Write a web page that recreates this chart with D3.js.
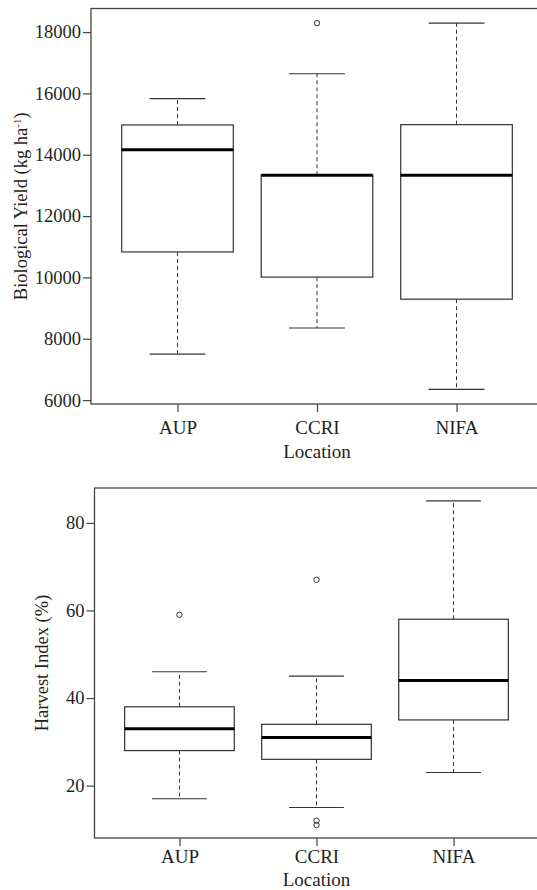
<!DOCTYPE html>
<html>
<head>
<meta charset="utf-8">
<script src="https://cdn.jsdelivr.net/npm/d3@7"></script>
<style>
  html, body { margin: 0; padding: 0; background: #fff; }
  svg { display: block; }
</style>
</head>
<body>
<div id="chart"></div>
<script>
// ── Data
const locations = ['AUP', 'CCRI', 'NIFA'];

// Biological yield (kg ha-1)
const yieldLow  = [7500, 8350, 6350];
const yieldQ1   = [10830, 10010, 9290];
const yieldMed  = [14160, 13330, 13330];
const yieldQ3   = [14970, 13330, 14980];
const yieldHigh = [15830, 16640, 18290];
const yieldOut  = [[], [18290], []];
const yieldTicks = [6000, 8000, 10000, 12000, 14000, 16000, 18000];

// Harvest index (%)
const hiLow  = [17, 15, 23];
const hiQ1   = [28, 26, 35];
const hiMed  = [33, 31, 44];
const hiQ3   = [38, 34, 58];
const hiHigh = [46, 45, 85];
const hiOut  = [[59], [67, 12, 11], []];
const hiTicks = [20, 40, 60, 80];

// ── Layout
const W = 537, H = 890;
const FONT = '"Liberation Serif", "Times New Roman", serif';
const INK = '#231f20';

const svg = d3.select('#chart').append('svg')
  .attr('width', W).attr('height', H);

function boxes(low, q1, med, q3, high, out) {
  return locations.map((name, i) => ({
    name, i: i + 1, low: low[i], q1: q1[i], med: med[i], q3: q3[i], high: high[i], out: out[i]
  }));
}

// R-style boxplot panel
function panel(opts) {
  const { data, left, right, top, bottom, ticks, yTitle, yTitleX, tickLabelY, xTitleY } = opts;
  const g = svg.append('g');

  const x = d3.scaleLinear().domain([0.38, 3.62]).range([left, right]);
  const all = data.flatMap(d => [d.low, d.high, ...d.out]);
  const lo = d3.min(all), hi = d3.max(all), pad = (hi - lo) * 0.04;
  const y = d3.scaleLinear().domain([lo - pad, hi + pad]).range([bottom, top]);

  const bw = x(1.4) - x(1);   // half box width
  const cw = x(1.2) - x(1);   // half cap width

  const b = g.selectAll('.box').data(data).enter().append('g').attr('class', 'box');

  // whiskers (dashed)
  b.append('line')
    .attr('x1', d => x(d.i)).attr('x2', d => x(d.i))
    .attr('y1', d => y(d.q3)).attr('y2', d => y(d.high))
    .attr('stroke', '#333').attr('stroke-width', 1).attr('stroke-dasharray', '4,3');
  b.append('line')
    .attr('x1', d => x(d.i)).attr('x2', d => x(d.i))
    .attr('y1', d => y(d.q1)).attr('y2', d => y(d.low))
    .attr('stroke', '#333').attr('stroke-width', 1).attr('stroke-dasharray', '4,3');

  // caps
  ['low', 'high'].forEach(k => {
    b.append('line')
      .attr('x1', d => x(d.i) - cw).attr('x2', d => x(d.i) + cw)
      .attr('y1', d => y(d[k])).attr('y2', d => y(d[k]))
      .attr('stroke', '#333').attr('stroke-width', 1.2);
  });

  // box
  b.append('rect')
    .attr('x', d => x(d.i) - bw).attr('width', 2 * bw)
    .attr('y', d => y(d.q3)).attr('height', d => y(d.q1) - y(d.q3))
    .attr('fill', 'none').attr('stroke', '#333').attr('stroke-width', 1.2);

  // median
  b.append('line')
    .attr('x1', d => x(d.i) - bw).attr('x2', d => x(d.i) + bw)
    .attr('y1', d => y(d.med)).attr('y2', d => y(d.med))
    .attr('stroke', '#000').attr('stroke-width', 3);

  // outliers
  b.selectAll('circle').data(d => d.out.map(v => ({ i: d.i, v }))).enter().append('circle')
    .attr('cx', d => x(d.i)).attr('cy', d => y(d.v)).attr('r', 2.7)
    .attr('fill', 'none').attr('stroke', '#333').attr('stroke-width', 1);

  // frame
  g.append('rect')
    .attr('x', left).attr('y', top)
    .attr('width', right - left).attr('height', bottom - top)
    .attr('fill', 'none').attr('stroke', '#444').attr('stroke-width', 1.3);

  // y axis
  const yAxis = g.append('g')
    .attr('transform', `translate(${left},0)`)
    .call(d3.axisLeft(y).tickValues(ticks).tickSize(8).tickPadding(2).tickFormat(d3.format('d')));
  yAxis.select('.domain').remove();
  yAxis.selectAll('line').attr('stroke', '#444').attr('stroke-width', 1.2);
  yAxis.selectAll('text')
    .style('font-family', FONT).style('font-size', '18.5px').attr('fill', INK);

  // x axis
  const xAxis = g.append('g')
    .attr('transform', `translate(0,${bottom})`)
    .call(d3.axisBottom(x).tickValues([1, 2, 3]).tickSize(8).tickFormat(d => locations[d - 1]));
  xAxis.select('.domain').remove();
  xAxis.selectAll('line').attr('stroke', '#444').attr('stroke-width', 1.2);
  xAxis.selectAll('text').attr('y', tickLabelY - bottom).attr('dy', 0)
    .style('font-family', FONT).style('font-size', '19px').attr('fill', INK);

  g.append('text')
    .attr('x', x(2)).attr('y', xTitleY)
    .attr('text-anchor', 'middle')
    .style('font-family', FONT).style('font-size', '19px').attr('fill', INK)
    .text('Location');

  const t = g.append('text')
    .attr('transform', `translate(${yTitleX},${(top + bottom) / 2}) rotate(-90)`)
    .attr('text-anchor', 'middle')
    .style('font-family', FONT).style('font-size', '18.5px').attr('fill', INK);
  yTitle(t);
}

panel({
  data: boxes(yieldLow, yieldQ1, yieldMed, yieldQ3, yieldHigh, yieldOut),
  left: 91, right: 543, top: 8.5, bottom: 404,
  ticks: yieldTicks,
  yTitleX: 27,
  tickLabelY: 434, xTitleY: 458,
  yTitle: t => {
    t.append('tspan').text('Biological Yield (kg ha');
    t.append('tspan').attr('baseline-shift', 'super').style('font-size', '11px').text('-1');
    t.append('tspan').text(')');
  }
});

panel({
  data: boxes(hiLow, hiQ1, hiMed, hiQ3, hiHigh, hiOut),
  left: 94.5, right: 538.5, top: 488, bottom: 838,
  ticks: hiTicks,
  yTitleX: 48,
  tickLabelY: 863, xTitleY: 886,
  yTitle: t => t.text('Harvest Index (%)')
});
</script>
</body>
</html>
